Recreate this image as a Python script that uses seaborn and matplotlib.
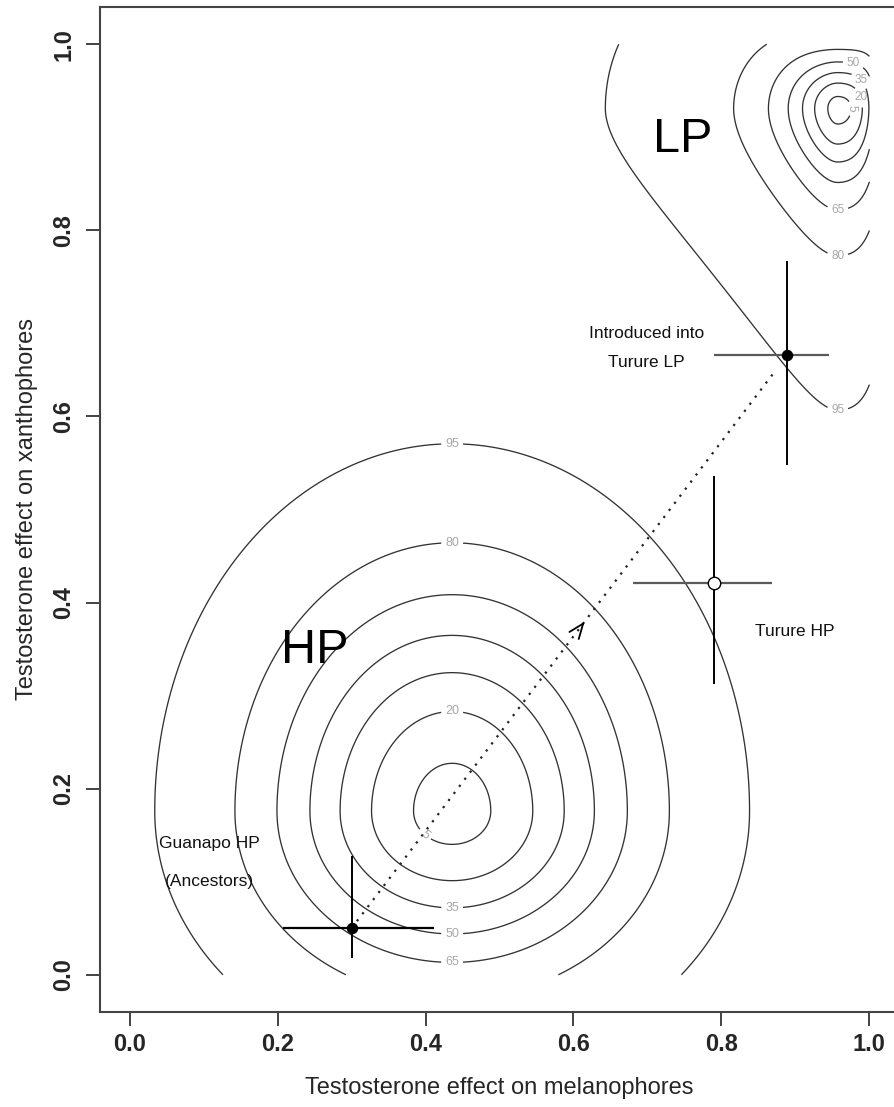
import numpy as np
import pandas as pd
import matplotlib
matplotlib.use("Agg")
import matplotlib.pyplot as plt
import seaborn as sns

# ---------------- data ----------------
pop_labels = ["Guanapo HP", "Introduced into Turure LP", "Turure HP"]
mel_mean = [0.300, 0.889, 0.790]
xan_mean = [0.050, 0.666, 0.421]
mel_low = [0.207, 0.790, 0.680]
mel_high = [0.411, 0.945, 0.869]
xan_low = [0.018, 0.548, 0.313]
xan_high = [0.128, 0.767, 0.536]
marker_filled = [True, True, False]

contour_levels = [5, 20, 35, 50, 65, 80, 95]

# HP regime surface: centre, spreads (toward low x, high x, low y, high y), tail
hp_centre = [0.436, 0.176]
hp_spread = [0.163, 0.163, 0.112, 0.160]
hp_tail = 200.0
hp_log_offset = [None, None]
hp_up_growth = 0.0
# LP regime surface (log distance from the right / top edges)
lp_centre = [0.957, 0.931]
lp_spread = [0.52, 0.90, 0.41, 0.040]
lp_tail = 6.0
lp_log_offset = [0.03, 0.05]
lp_up_growth = 0.13

x_ticks = [0.0, 0.2, 0.4, 0.6, 0.8, 1.0]
y_ticks = [0.0, 0.2, 0.4, 0.6, 0.8, 1.0]
x_title = "Testosterone effect on melanophores"
y_title = "Testosterone effect on xanthophores"


# ---------------- helpers ----------------
def fwd(v, off):
    return v if off is None else -np.log(1 + off - v)


def inv(t, off):
    return t if off is None else 1 + off - np.exp(-t)


def percent_surface(gx, gy, centre, spread, tail, offs, growth):
    da = fwd(gx, offs[0]) - fwd(np.asarray(centre[0]), offs[0])
    ta = da / np.where(da < 0, spread[0], spread[1])
    dy = gy - centre[1]
    db_down = fwd(gy, offs[1]) - fwd(np.asarray(centre[1]), offs[1])
    tb = np.where(dy < 0, db_down / spread[2],
                  dy / (spread[3] * (1 + growth * ta ** 2)))
    d2 = ta ** 2 + tb ** 2
    return 100 * (1 - (1 + d2 / tail) ** (-tail / 2))


def level_radius(p, tail):
    return np.sqrt(tail * ((1 - p / 100.0) ** (-2.0 / tail) - 1))


def point_on(level, angle, centre, spread, tail, offs, growth):
    r = level_radius(level, tail)
    t = np.deg2rad(angle)
    ta, tb = r * np.cos(t), r * np.sin(t)
    a0 = fwd(np.asarray(centre[0]), offs[0])
    x = inv(a0 + ta * (spread[1] if ta >= 0 else spread[0]), offs[0])
    if tb >= 0:
        y = centre[1] + tb * spread[3] * (1 + growth * ta ** 2)
    else:
        b0 = fwd(np.asarray(centre[1]), offs[1])
        y = inv(b0 + tb * spread[2], offs[1])
    return float(x), float(y)


# ---------------- figure ----------------
sns.set_theme(style="ticks")
plt.rcParams["font.family"] = ["Liberation Sans", "DejaVu Sans"]

W, H = 894, 1107
fig = plt.figure(figsize=(W / 100, H / 100), dpi=100)
ax = fig.add_axes([100 / W, (H - 1012) / H, 799 / W, 1005 / H])
ax.set_xlim(-0.04, 1.04)
ax.set_ylim(-0.04, 1.04)

grid = np.linspace(0, 1, 401)
GX, GY = np.meshgrid(grid, grid)
hp_args = (hp_centre, hp_spread, hp_tail, hp_log_offset, hp_up_growth)
lp_args = (lp_centre, lp_spread, lp_tail, lp_log_offset, lp_up_growth)
hp_surface = percent_surface(GX, GY, *hp_args)
lp_surface = percent_surface(GX, GY, *lp_args)

line_col = "#333333"
lab_col = "#a8a8a8"

cs_hp = ax.contour(GX, GY, hp_surface, levels=contour_levels, colors=line_col,
                   linewidths=0.95)
cs_lp = ax.contour(GX, GY, lp_surface, levels=contour_levels, colors=line_col,
                   linewidths=0.95)

hp_angles = {5: 225, 20: 90, 35: 270, 50: 270, 65: 270, 80: 90, 95: 90}
lp_angles = {5: 0, 20: 25, 35: 50, 50: 72, 65: 270, 80: 270, 95: 270}

hp_pos = [point_on(l, hp_angles[l], *hp_args) for l in contour_levels]
lp_pos = [point_on(l, lp_angles[l], *lp_args) for l in contour_levels]

for cs, pos, fs in ((cs_hp, hp_pos, 9), (cs_lp, lp_pos, 8.5)):
    labs = ax.clabel(cs, contour_levels, inline=True, fmt="%d", fontsize=fs,
                     colors=lab_col, manual=pos, inline_spacing=4)
    for t in labs:
        if t.get_text() != "5":
            t.set_rotation(0)

# dotted trajectory with open arrow head
p0 = np.array([mel_mean[0], xan_mean[0]])
p1 = np.array([mel_mean[1], xan_mean[1]])
seg = p1 - p0
ax.plot([p0[0], p0[0] + 0.97 * seg[0]], [p0[1], p0[1] + 0.97 * seg[1]],
        color="#222222", lw=1.6, linestyle=(0, (1, 3.0)), zorder=3)
tip = p0 + 0.535 * seg
tail_pt = p0 + 0.530 * seg
ax.annotate("", xy=tip, xytext=tail_pt,
            arrowprops=dict(arrowstyle="->,head_length=0.9,head_width=0.35",
                            color="black", lw=1.3, shrinkA=0, shrinkB=0))

# error bars
for i in range(len(pop_labels)):
    hcol = "black" if i == 0 else "#5a5a5a"
    ax.plot([mel_low[i], mel_high[i]], [xan_mean[i], xan_mean[i]], color=hcol,
            lw=1.6, zorder=4, solid_capstyle="butt")
    ax.plot([mel_mean[i], mel_mean[i]], [xan_low[i], xan_high[i]], color="black",
            lw=1.4, zorder=4, solid_capstyle="butt")

pts = pd.DataFrame({"mel": mel_mean, "xan": xan_mean, "pop": pop_labels,
                    "filled": marker_filled})
sns.scatterplot(data=pts[pts["filled"]], x="mel", y="xan", color="black", s=55,
                edgecolor="black", linewidth=0.8, zorder=6, ax=ax, legend=False)
sns.scatterplot(data=pts[~pts["filled"]], x="mel", y="xan", facecolor="white",
                s=80, edgecolor="black", linewidth=1.0, zorder=6, ax=ax, legend=False)

# annotations
txt_kw = dict(ha="center", va="center", fontsize=12.5, color="#111111")
ax.text(0.1085, 0.141, "Guanapo HP", **txt_kw)
ax.text(0.1085, 0.0998, "(Ancestors)", **txt_kw)
ax.text(0.699, 0.689, "Introduced into", **txt_kw)
ax.text(0.699, 0.658, "Turure LP", **txt_kw)
ax.text(0.8995, 0.369, "Turure HP", **txt_kw)
ax.text(0.25, 0.349, "HP", ha="center", va="center", fontsize=35, color="black")
ax.text(0.748, 0.898, "LP", ha="center", va="center", fontsize=35, color="black")

# axes styling
ax.set_xticks(x_ticks)
ax.set_yticks(y_ticks)
ax.set_xticklabels([f"{v:.1f}" for v in x_ticks], fontsize=17, fontweight="bold")
ax.set_yticklabels([f"{v:.1f}" for v in y_ticks], fontsize=17, fontweight="bold",
                   rotation=90, va="center")
ax.tick_params(axis="both", direction="out", length=10, width=1.2, color="#222222")
ax.tick_params(axis="x", pad=5)
ax.tick_params(axis="y", pad=8)
ax.set_xlabel(x_title, fontsize=17, labelpad=15)
ax.set_ylabel(y_title, fontsize=17, labelpad=10)
for sp in ax.spines.values():
    sp.set_visible(True)
    sp.set_color("#444444")
    sp.set_linewidth(1.5)

fig.savefig("out.png", dpi=100)
